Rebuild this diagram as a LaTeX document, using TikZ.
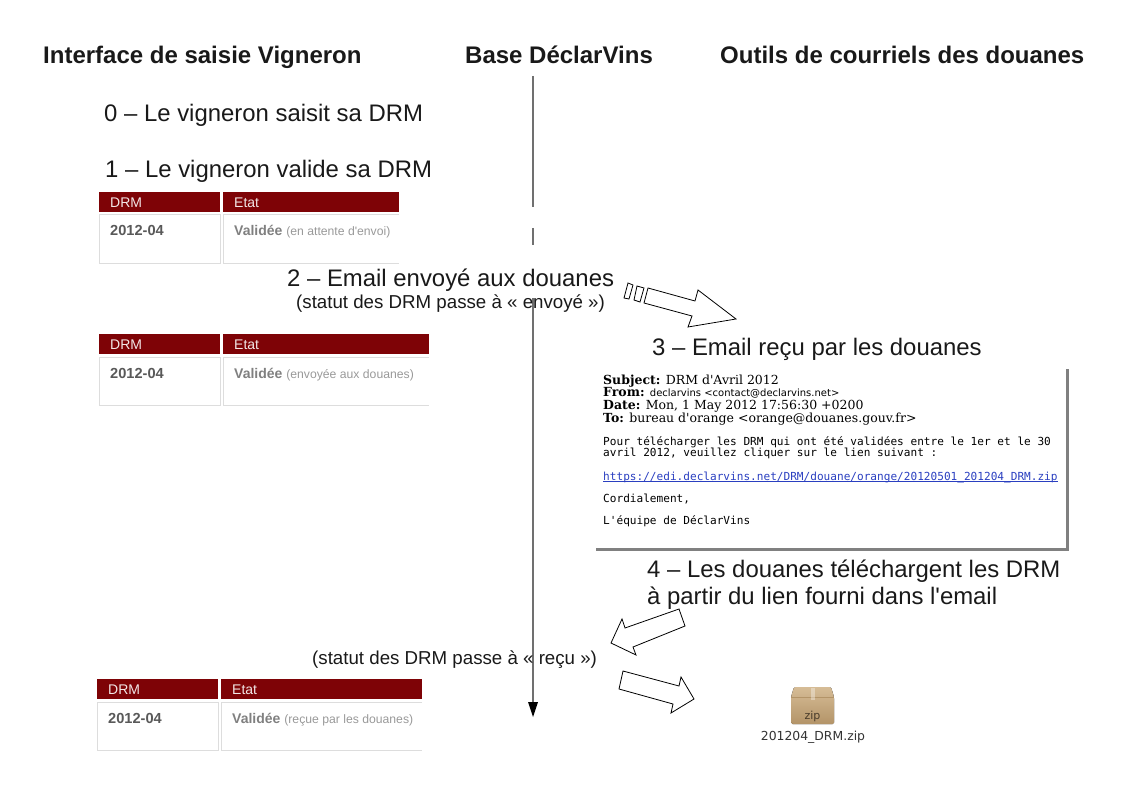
\documentclass[tikz,border=0pt]{standalone}
\usepackage{fontspec}
\setmainfont{Liberation Sans}
\newfontfamily\lsans{Liberation Sans}
\newfontfamily\monof{DejaVu Sans Mono}
\newfontfamily\seriff{DejaVu Serif}
\newfontfamily\dejas{DejaVu Sans}
\newcommand{\apos}{{\lsans'}}
\definecolor{drmred}{HTML}{7E0306}
\definecolor{cellline}{HTML}{DDDDDD}
\definecolor{axisgray}{HTML}{707070}
\definecolor{linkblue}{HTML}{2A3FC0}
\definecolor{ziptop}{HTML}{D6BC96}
\definecolor{zipbot}{HTML}{B39468}
\tikzset{
  x=1pt,y=-1pt,
  lbl/.style={anchor=base west,inner sep=0pt,text=black!90},
  title/.style={lbl,font=\fontsize{24}{24}\selectfont\bfseries},
  big/.style={lbl,font=\fontsize{23.9}{24}\selectfont},
  small/.style={lbl,font=\fontsize{18.7}{19}\selectfont},
  mail/.style={anchor=base west,inner sep=0pt,text=black,font=\fontsize{11.1}{12}\monof},
  mailh/.style={anchor=base west,inner sep=0pt,text=black,font=\fontsize{12.5}{13}\seriff},
  hd/.style={anchor=base west,inner sep=0pt,text=white!90!drmred,font=\fontsize{14}{14}\selectfont},
  blockarrow/.style={draw=black,fill=white,line width=0.8pt,line join=miter},
  cellbox/.style={draw=cellline,line width=1pt},
}
\newcommand{\drmtable}[5]{% name, x, y, right edge, state note
  \fill[drmred] (#2,#3) rectangle ++(121,20);
  \fill[drmred] (#2+124,#3) rectangle (#4,#3+20);
  \draw[cellbox] (#2,#3+23) rectangle ++(121,48);
  \draw[cellbox] (#4,#3+23) -- (#2+124,#3+23) -- (#2+124,#3+71) -- (#4,#3+71);
  \node[hd] (#1a) at (#2+11,#3+15.5) {DRM};
  \node[hd] (#1b) at (#2+135,#3+15.5) {Etat};
  \node[anchor=base west,inner sep=0pt,text=black!65,font=\fontsize{14.6}{15}\bfseries] (#1c) at (#2+11,#3+44) {2012-04};
  \node[anchor=base west,inner sep=0pt,font=\fontsize{14}{14}\selectfont,text=black!50] (#1d) at (#2+135,#3+44) {\textbf{\fontsize{14}{14}\selectfont Validée} {\fontsize{12.2}{12}\selectfont\color{black!40} #5}};
}
\begin{document}
\begin{tikzpicture}
\useasboundingbox (0,0) rectangle (1123,794);
% timeline
\coordinate (t0) at (533,76);
\coordinate (t1) at (533,207);
\coordinate (t2) at (533,228);
\coordinate (t3) at (533,245);
\coordinate (t4) at (533,298);
\coordinate (t5) at (533,717);
\draw[axisgray,line width=1.4pt] (t0) -- (t1);
\draw[axisgray,line width=1.4pt] (t2) -- (t3);
\draw[axisgray,line width=1.4pt] (t4) -- (533,704);
\fill[black] (528,702) -- (538,702) -- (t5) -- cycle;
% titles
\node[title] (h1) at (43,64) {Interface de saisie Vigneron};
\node[title] (h2) at (465,64) {Base DéclarVins};
\node[title] (h3) at (720,64) {Outils de courriels des douanes};
% steps
\node[big] (s0) at (104,122) {0 – Le vigneron saisit sa DRM};
\node[big] (s1) at (105,178) {1 – Le vigneron valide sa DRM};
\node[big] (s2) at (287,286) {2 – Email envoyé aux douanes};
\node[small] (s2b) at (296,308) {(statut des DRM passe à « envoyé »)};
\node[big] (s3) at (652,355) {3 – Email reçu par les douanes};
\node[big] (s4) at (647,577) {4 – Les douanes téléchargent les DRM};
\node[big] (s4b) at (647,604) {à partir du lien fourni dans l\apos{}email};
\node[small] (s5) at (312,664) {(statut des DRM passe à « reçu »)};
% tables
\drmtable{ta}{99}{192}{399}{(en attente d\apos{}envoi)}
\drmtable{tb}{99}{334}{429}{(envoyée aux douanes)}
\drmtable{tc}{97}{679}{422}{(reçue par les douanes)}
% block arrows
\draw[blockarrow] (628,283) -- (633,285) -- (629,299) -- (624,298) -- cycle;
\draw[blockarrow] (637,286) -- (644,288) -- (640,302) -- (634,300) -- cycle;
\draw[blockarrow] (648,288) -- (695,301) -- (698,290) -- (736,319) -- (688,327) -- (692,316) -- (644,303) -- cycle;
\draw[blockarrow] (679,609) -- (685,626) -- (633,647) -- (636,655) -- (611,643) -- (622,619) -- (625,628) -- cycle;
\draw[blockarrow] (623,671) -- (619,689) -- (673,704) -- (671,713) -- (694,699) -- (681,677) -- (679,686) -- cycle;
% email
\fill[black!50] (1066,369) rectangle (1069,550);
\fill[black!50] (596,548) rectangle (1069,551);
\node[mailh] (m1) at (603,384) {\textbf{Subject:} DRM d'Avril 2012};
\node[mailh] (m2) at (603,396) {\textbf{From:} {\fontsize{10}{10}\dejas declarvins <contact@declarvins.net>}};
\node[mailh] (m3) at (603,409) {\textbf{Date:} Mon, 1 May 2012 17:56:30 +0200};
\node[mailh] (m4) at (603,422) {\textbf{To:} bureau d'orange <orange@douanes.gouv.fr>};
\node[mail] (m5) at (603,445) {Pour télécharger les DRM qui ont été validées entre le 1er et le 30};
\node[mail] (m6) at (603,456) {avril 2012, veuillez cliquer sur le lien suivant :};
\node[mail,text=linkblue] (m7) at (603,480) {https://edi.declarvins.net/DRM/douane/orange/20120501\_201204\_DRM.zip};
\draw[linkblue,line width=0.7pt] ([yshift=-1.3pt]m7.base west) -- ([yshift=-1.3pt]m7.base east);
\node[mail] (m8) at (603,502) {Cordialement,};
\node[mail] (m9) at (603,524) {L'équipe de DéclarVins};
% zip icon
\fill[top color=ziptop,bottom color=zipbot,rounded corners=1.5pt] (794,687) -- (831,687) -- (834,697) -- (834,724) -- (791,724) -- (791,697) -- cycle;
\draw[zipbot,line width=0.4pt] (791,697) -- (834,697);
\fill[white,opacity=0.35] (811,688) rectangle (815,700);
\node[anchor=center,inner sep=0pt,text=black!60!zipbot,font=\fontsize{11}{11}\dejas] (zipl) at (812.5,716.5) {zip};
\node[anchor=base,inner sep=0pt,text=black!80,font=\fontsize{12.4}{13}\dejas] (zipn) at (813,740.5) {201204\_DRM.zip};
\end{tikzpicture}
\end{document}
